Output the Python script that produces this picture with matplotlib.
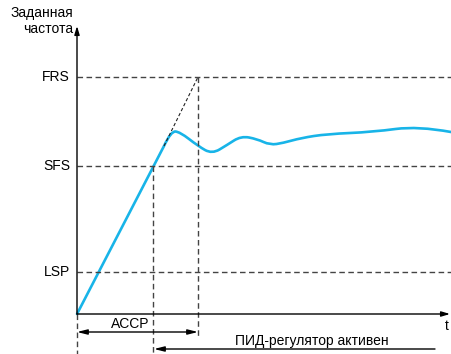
import matplotlib
matplotlib.use("Agg")
import matplotlib.pyplot as plt
from matplotlib.path import Path
from matplotlib.patches import PathPatch

plt.rcParams['font.family'] = ['Liberation Sans', 'DejaVu Sans']

# levels of the set frequency
level_names = ['LSP', 'SFS', 'FRS']
level_values = [42, 148, 237]

# time where the ramp reaches SFS and FRS
t_sfs = 76
t_frs = 121

# frequency reference (blue curve): straight ramp, then smooth control points
ramp_t = [0, 87]
ramp_f = [0, 168]
curve_t = [94, 103, 121, 135, 150, 164, 180, 193, 206, 224, 250, 296, 341,
           374]
curve_f = [183, 182, 168, 160, 169, 178, 175, 169, 171, 176, 180, 182, 188,
           182]

t_max = 374
dash = (0, (4, 2.5))
grey = '#444444'
blue = '#18b4e8'

fig = plt.figure(figsize=(4.51, 3.54), dpi=100)
ax = fig.add_axes([0, 0, 1, 1])
ax.set_xlim(-77, 374)
ax.set_ylim(-40, 314)
ax.axis('off')

# axes with arrows
ax.annotate('', xy=(0, 288), xytext=(0, 0),
            arrowprops=dict(arrowstyle='-|>,head_length=0.5,head_width=0.15',
                            color='black', lw=1, shrinkA=0, shrinkB=0))
ax.annotate('', xy=(t_max - 1, 0), xytext=(0, 0),
            arrowprops=dict(arrowstyle='-|>,head_length=0.5,head_width=0.15',
                            color='black', lw=1, shrinkA=0, shrinkB=0))

# horizontal dashed levels + labels
for name, val in zip(level_names, level_values):
    ax.plot([0, t_max], [val, val], ls=dash, color=grey, lw=1)
    ax.text(-7, val, name, ha='right', va='center', fontsize=10)

# vertical dashed markers
ax.plot([0, 0], [0, -40], ls=dash, color=grey, lw=1)
ax.plot([t_sfs, t_sfs], [level_values[1], -40], ls=dash, color=grey, lw=1)
ax.plot([t_frs, t_frs], [level_values[2], -24], ls=dash, color=grey, lw=1)

# theoretical ramp continuation
ax.plot([ramp_t[1], t_frs], [ramp_f[1], level_values[2]], ls=(0, (3, 2)),
        color='#222222', lw=0.8)

# reference curve as a quadratic spline through segment midpoints
pts = list(zip(curve_t, curve_f))
verts = [(ramp_t[0], ramp_f[0]), (ramp_t[1], ramp_f[1])]
codes = [Path.MOVETO, Path.LINETO]
for i in range(len(pts) - 1):
    p, q = pts[i], pts[i + 1]
    end = q if i == len(pts) - 2 else ((p[0] + q[0]) / 2, (p[1] + q[1]) / 2)
    verts += [p, end]
    codes += [Path.CURVE3, Path.CURVE3]
ax.add_patch(PathPatch(Path(verts, codes), facecolor='none', edgecolor=blue,
                       lw=1.9, capstyle='round', joinstyle='round'))

# ACCP arrow
ax.annotate('', xy=(t_frs, -18), xytext=(0, -18),
            arrowprops=dict(arrowstyle='<|-|>,head_length=0.6,head_width=0.15',
                            color='black', lw=1, shrinkA=0, shrinkB=0))
ax.text(53, -10, 'ACCP', ha='center', va='center', fontsize=10)

# PID active arrow
ax.annotate('', xy=(t_sfs + 1, -35), xytext=(358, -35),
            arrowprops=dict(arrowstyle='-|>,head_length=0.6,head_width=0.15',
                            color='black', lw=1, shrinkA=0, shrinkB=0))
ax.text(235, -27, 'ПИД-регулятор активен', ha='center', va='center',
        fontsize=10)

ax.text(370, -12, 't', ha='center', va='center', fontsize=10)
ax.text(-4, 293, 'Заданная\nчастота', ha='right', va='center',
        fontsize=10, linespacing=1.25)

fig.savefig('out.png', dpi=100)
